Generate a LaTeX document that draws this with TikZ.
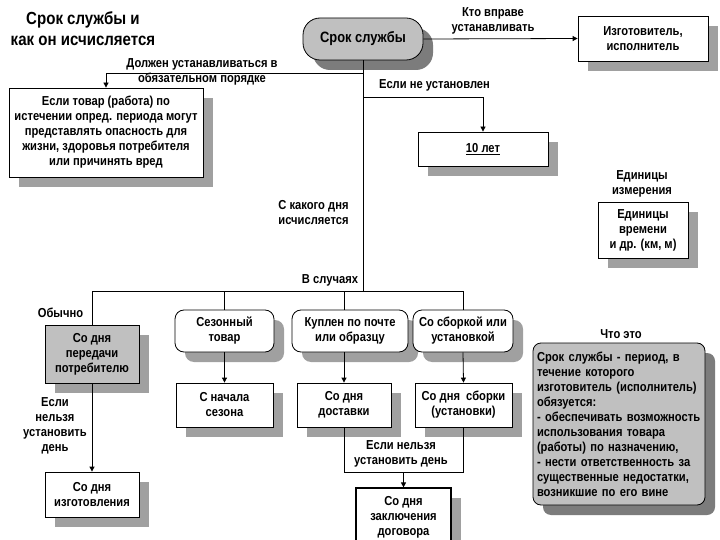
\documentclass[tikz,border=0pt]{standalone}
\usepackage{fontspec}
\setmainfont{Liberation Sans}[FakeStretch=0.86]
\usetikzlibrary{arrows.meta,shadows}
\definecolor{boxgray}{HTML}{C0C0C0}
\definecolor{shlight}{HTML}{A0A0A0}
\definecolor{shdark}{HTML}{7C7C7C}
\begin{document}
\begin{tikzpicture}[x=1pt,y=-1pt,
  font=\bfseries\fontsize{13}{15}\selectfont,
  every node/.style={inner sep=0pt,align=center},
  sh/.style={drop shadow={shadow xshift=10pt,shadow yshift=-10pt,fill=shlight,opacity=1}},
  shd/.style={drop shadow={shadow xshift=10pt,shadow yshift=-10pt,fill=shdark,opacity=1}},
  box/.style={draw=black,line width=0.8pt,fill=white,sh},
  rbox/.style={box,rounded corners=9pt},
  lbl/.style={},
  conn/.style={line width=0.8pt},
  arr/.style={conn,-{Triangle[length=5pt,width=5pt]}}]
\useasboundingbox (0,0) rectangle (720,540);
\fill[white] (0,0) rectangle (720,540);

% title
\node[lbl,font=\bfseries\fontsize{17.5}{21}\selectfont] (title) at (83,28.5) {Срок службы и\\как он исчисляется};

% main node
\node[draw=black,line width=0.8pt,fill=boxgray,rounded corners=17pt,shd,
      minimum width=120,minimum height=42,font=\bfseries\fontsize{15}{16}\selectfont] (main) at (363,39) {Срок службы};

\node[box,minimum width=130,minimum height=45] (izg) at (643,38.5) {Изготовитель,\\исполнитель};
\node[box,minimum width=194,minimum height=89] (danger) at (106,132.5)
  {Если товар (работа) по\\истечении опред. периода могут\\представлять опасность для\\жизни, здоровья потребителя\\или причинять вред};
\node[box,minimum width=130,minimum height=34] (ten) at (483,149) {\underline{10 лет}};
\node[box,minimum width=90,minimum height=56] (units) at (643,230) {Единицы\\времени\\и др. (км, м)};

\node[box,fill=boxgray,minimum width=94,minimum height=58] (pered) at (92,354) {Со дня\\передачи\\потребителю};
\node[box,minimum width=94,minimum height=45] (izgot) at (92,494.5) {Со дня\\изготовления};

\node[rbox,minimum width=99,minimum height=42] (sezon) at (224.5,331) {Сезонный\\товар};
\node[rbox,minimum width=116,minimum height=42] (pochta) at (350,331) {Куплен по почте\\или образцу};
\node[rbox,minimum width=100,minimum height=42] (sborka) at (463,331) {Со сборкой или\\установкой};

\node[box,minimum width=97,minimum height=44] (nachalo) at (224.5,405) {С начала\\сезона};
\node[box,minimum width=94,minimum height=44] (dost) at (344,405) {Со дня\\доставки};
\node[box,minimum width=97,minimum height=44] (sbor) at (463.5,405) {Со дня\ \ сборки\\(установки)};
\node[box,line width=1.2pt,minimum width=95,minimum height=58] (dogovor) at (403.5,517) {Со дня\\заключения\\договора};

\node[draw=black,line width=0.8pt,fill=boxgray,rounded corners=8pt,shd,
      text width=164,inner xsep=4pt,minimum height=162,align=left] (what) at (619,424)
  {Срок службы - период, в\\течение которого\\изготовитель (исполнитель)\\обязуется:\\- обеспечивать возможность\\использования товара\\(работы) по назначению,\\- нести ответственность за\\существенные недостатки,\\возникшие по его вине};

% labels
\node[lbl] (l1) at (493,21) {Кто вправе\\устанавливать};
\node[lbl] (l2) at (202,71.5) {Должен устанавливаться в\\обязательном порядке};
\node[lbl] (l3) at (434.5,85) {Если не установлен};
\node[lbl] (l4) at (642,184) {Единицы\\измерения};
\node[lbl] (l5) at (313.5,212.5) {С какого дня\\исчисляется};
\node[lbl] (l6) at (330,280) {В случаях};
\node[lbl] (l7) at (60.5,313) {Обычно};
\node[lbl] (l8) at (55,426) {Если\\нельзя\\установить\\день};
\node[lbl] (l9) at (401,453.5) {Если нельзя\\установить день};
\node[lbl] (l10) at (621,334) {Что это};

% coordinates
\coordinate (b1) at (363,73);
\coordinate (b2) at (363,97);
\coordinate (hub) at (363,291);
\coordinate (ubot) at (403.5,472);

% connectors
\draw[arr] (main.east) -- (izg.west);
\draw[conn] (main.south) -- (hub);
\draw[arr] (b1) -- (danger.north |- b1) -- (danger.north);
\draw[arr] (b2) -- (ten.north |- b2) -- (ten.north);
\draw[conn] (pered.north) -- (pered.north |- hub) -- (sborka.north |- hub) -- (sborka.north);
\draw[conn] (sezon.north |- hub) -- (sezon.north);
\draw[conn] (dost.north |- hub) -- (dost.north |- pochta.north);
\draw[arr] (sezon.south) -- (nachalo.north);
\draw[arr] (dost.north |- pochta.south) -- (dost.north);
\draw[arr] (sborka.south) -- (sbor.north);
\draw[arr] (pered.south) -- (izgot.north);
\draw[conn] (dost.south) -- (dost.south |- ubot) -- (sbor.south |- ubot) -- (sbor.south);
\draw[arr] (ubot) -- (dogovor.north);
\end{tikzpicture}
\end{document}
